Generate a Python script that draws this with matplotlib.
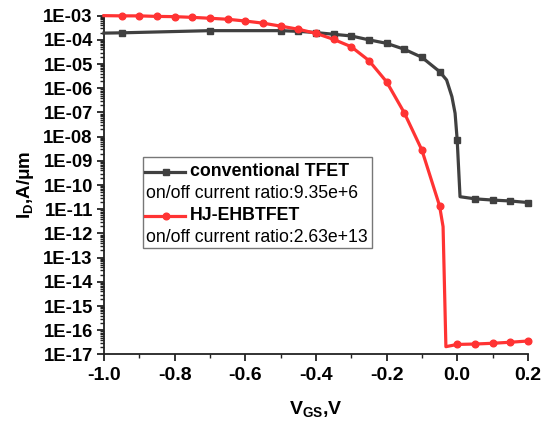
import matplotlib
matplotlib.use("Agg")
import matplotlib.pyplot as plt
import numpy as np
from matplotlib.ticker import FixedLocator, FixedFormatter, LogLocator, NullFormatter, MultipleLocator
from matplotlib.patches import Rectangle

plt.rcParams['font.family'] = ['Liberation Sans', 'DejaVu Sans']
plt.rcParams['mathtext.fontset'] = 'custom'
plt.rcParams['mathtext.bf'] = 'Liberation Sans:bold'
plt.rcParams['mathtext.rm'] = 'Liberation Sans'
plt.rcParams['mathtext.it'] = 'Liberation Sans:italic'

# ---- data ----
conv_vgs = [-1.0, -0.95, -0.7, -0.5, -0.45, -0.4, -0.35, -0.3, -0.25, -0.2, -0.15, -0.1,
            -0.05, -0.03, -0.015, -0.006, 0.0, 0.008, 0.05, 0.1, 0.15, 0.2]
conv_id = [1.9e-4, 1.95e-4, 2.4e-4, 2.4e-4, 2.25e-4, 2.0e-4, 1.7e-4, 1.45e-4, 1.0e-4, 7.2e-5,
           4.1e-5, 1.9e-5, 4.9e-6, 2.2e-6, 4.5e-7, 9.3e-8, 7.2e-9, 3.3e-11, 2.7e-11, 2.4e-11,
           2.2e-11, 1.9e-11]
conv_marked = [False, True, True, True, True, True, True, True, True, True, True, True,
               True, False, False, False, True, False, True, True, True, True]

hj_vgs = [-1.0, -0.95, -0.9, -0.85, -0.8, -0.75, -0.7, -0.65, -0.6, -0.55, -0.5, -0.45, -0.4,
          -0.35, -0.3, -0.25, -0.2, -0.15, -0.1, -0.05, -0.04, -0.032, 0.0, 0.05, 0.1, 0.15, 0.2]
hj_id = [1.0e-3, 9.8e-4, 9.8e-4, 9.3e-4, 9.1e-4, 8.5e-4, 7.8e-4, 7.1e-4, 6.0e-4, 4.9e-4,
         3.7e-4, 2.75e-4, 1.86e-4, 1.05e-4, 5.2e-5, 1.4e-5, 1.86e-6, 9.8e-8, 2.8e-9, 1.4e-11,
         1.9e-12, 2.1e-17, 2.6e-17, 2.7e-17, 2.9e-17, 3.2e-17, 3.6e-17]
hj_marked = [False] + [True] * 19 + [False, False] + [True] * 5

series_names = ["conventional TFET", "HJ-EHBTFET"]
ratio_texts = ["on/off current ratio:9.35e+6", "on/off current ratio:2.63e+13"]

xticks = [-1.0, -0.8, -0.6, -0.4, -0.2, 0.0, 0.2]
xticklabels = ["-1.0", "-0.8", "-0.6", "-0.4", "-0.2", "0.0", "0.2"]
ydecades = list(range(-17, -2))
yticklabels = ["1E-%02d" % (-e) for e in ydecades]

col_conv = "#404040"
col_hj = "#ff3333"

fig = plt.figure(figsize=(5.47, 4.23), dpi=100)
ax = fig.add_axes([0.190, 0.162, 0.775, 0.801])

ax.plot(conv_vgs, conv_id, color=col_conv, lw=2.3, marker='s', ms=4.8,
        markevery=[i for i, m in enumerate(conv_marked) if m], zorder=3, clip_on=False)
ax.plot(hj_vgs, hj_id, color=col_hj, lw=2.3, marker='o', ms=4.8,
        markevery=[i for i, m in enumerate(hj_marked) if m], zorder=4, clip_on=False)

ax.set_yscale('log')
ax.set_xlim(-1.0, 0.2)
ax.set_ylim(1e-17, 1e-3)

ax.yaxis.set_major_locator(FixedLocator([10.0 ** e for e in ydecades]))
ax.yaxis.set_major_formatter(FixedFormatter(yticklabels))
ax.yaxis.set_minor_locator(LogLocator(base=10, subs=np.arange(2, 10), numticks=200))
ax.yaxis.set_minor_formatter(NullFormatter())

ax.xaxis.set_major_locator(FixedLocator(xticks))
ax.xaxis.set_major_formatter(FixedFormatter(xticklabels))
ax.xaxis.set_minor_locator(MultipleLocator(0.1))

for s in ['top', 'right']:
    ax.spines[s].set_visible(False)
for s in ['left', 'bottom']:
    ax.spines[s].set_linewidth(1.3)
    ax.spines[s].set_color('#222222')

ax.tick_params(axis='both', which='major', length=5, width=1.3, direction='out',
               pad=3, colors='#222222')
ax.tick_params(axis='y', which='major', labelsize=13.3)
ax.tick_params(axis='x', which='major', labelsize=14, pad=4)
ax.tick_params(axis='both', which='minor', length=3, width=1.0, direction='out', colors='#222222')
for lab in ax.get_xticklabels() + ax.get_yticklabels():
    lab.set_fontweight('bold')
    lab.set_color('black')

ax.set_xlabel(r"$\mathbf{V_{GS}}$,V", fontsize=14, fontweight='bold', labelpad=11)
ax.set_ylabel(r"$\mathbf{I_{D}}$,A/μm", fontsize=13.5, fontweight='bold', labelpad=5)

# legend box (manual)
def px2ax(x, y):
    return ax.transAxes.inverted().transform(fig.transFigure.transform((x / 547.0, 1 - y / 423.0)))

x0, y0 = px2ax(143, 248)
x1, y1 = px2ax(372, 157)
ax.add_patch(Rectangle((x0, y0), x1 - x0, y1 - y0, transform=ax.transAxes,
                       facecolor='white', edgecolor='#777777', lw=1.0, zorder=5))
rows = [171.7, 193, 215.7, 237.5]
hx0 = px2ax(145, 0)[0]
hx1 = px2ax(185, 0)[0]
hxm = px2ax(166, 0)[0]
tx_series = px2ax(190, 0)[0]
tx_ratio = px2ax(146, 0)[0]
for i, (name, ratio, col, mk) in enumerate(zip(series_names, ratio_texts,
                                                [col_conv, col_hj], ['s', 'o'])):
    yy = px2ax(0, rows[2 * i])[1]
    ax.plot([hx0, hx1], [yy, yy], color=col, lw=2.3, transform=ax.transAxes, zorder=6, clip_on=False)
    ax.plot([hxm], [yy], color=col, marker=mk, ms=4.8, transform=ax.transAxes, zorder=6, clip_on=False)
    ax.text(tx_series, yy, name, transform=ax.transAxes, fontsize=12.8, fontweight='bold',
            va='center', ha='left', zorder=6)
    yr = px2ax(0, rows[2 * i + 1])[1]
    ax.text(tx_ratio, yr, ratio, transform=ax.transAxes, fontsize=12.7,
            va='center', ha='left', zorder=6)

fig.savefig("out.png", dpi=100)
